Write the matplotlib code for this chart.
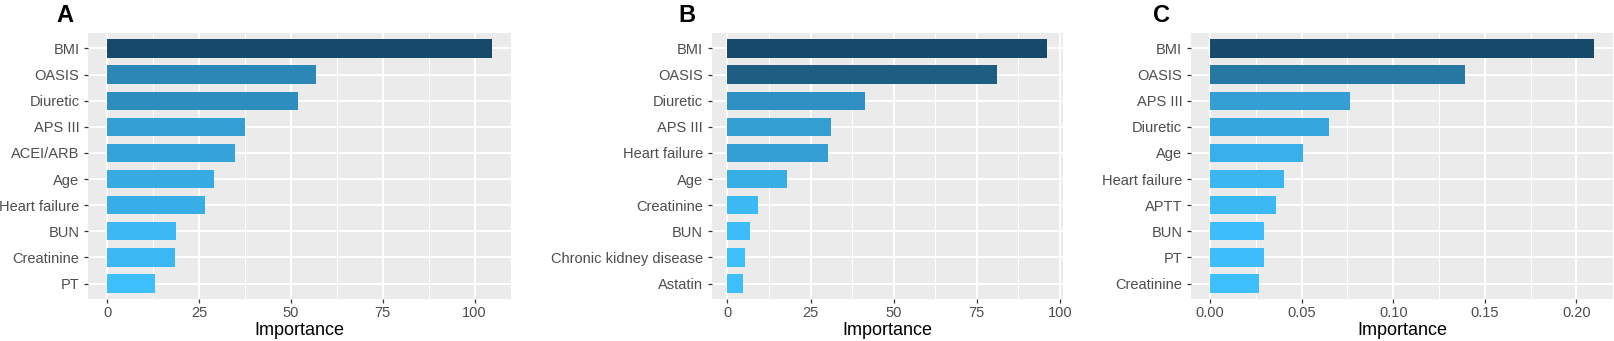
import numpy as np
import matplotlib
matplotlib.use("Agg")
import matplotlib.pyplot as plt
from matplotlib.colors import LinearSegmentedColormap, Normalize
from matplotlib.ticker import MultipleLocator

plt.rcParams['font.family'] = ['Liberation Sans', 'DejaVu Sans']

# Panel A
labels_a = ["BMI", "OASIS", "Diuretic", "APS III", "ACEI/ARB", "Age",
            "Heart failure", "BUN", "Creatinine", "PT"]
values_a = [104.7, 56.9, 51.9, 37.4, 34.8, 29.2, 26.5, 18.6, 18.4, 12.9]

# Panel B
labels_b = ["BMI", "OASIS", "Diuretic", "APS III", "Heart failure", "Age",
            "Creatinine", "BUN", "Chronic kidney disease", "Astatin"]
values_b = [96.1, 81.2, 41.4, 31.1, 30.3, 17.9, 9.1, 6.7, 5.4, 4.7]

# Panel C
labels_c = ["BMI", "OASIS", "APS III", "Diuretic", "Age", "Heart failure",
            "APTT", "BUN", "PT", "Creatinine"]
values_c = [0.2095, 0.139, 0.0763, 0.0647, 0.0505, 0.0402, 0.0359, 0.0296,
            0.0292, 0.0268]

ticks_ab = [0, 25, 50, 75, 100]
ticks_c = [0.00, 0.05, 0.10, 0.15, 0.20]

cmap = LinearSegmentedColormap.from_list("imp", ["#3dbffc", "#174a6a"])

W, H = 1614, 341
fig = plt.figure(figsize=(W / 100, H / 100), dpi=100)

def panel(left, right, labels, values, ticks, fmt, minor, letter, letter_x):
    top, bottom = 32.7, 299.3
    ax = fig.add_axes([left / W, (H - bottom) / H, (right - left) / W, (bottom - top) / H])
    ax.set_facecolor("#EBEBEB")
    n = len(labels)
    y = np.arange(n)
    norm = Normalize(min(values), max(values))
    ax.barh(y, values, height=0.7, color=cmap(norm(np.array(values))), zorder=3)
    m = max(values)
    ax.set_xlim(-0.05 * m, 1.05 * m)
    ax.set_ylim(n - 0.4, -0.6)
    ax.set_yticks(y)
    ax.set_yticklabels(labels)
    ax.set_xticks(ticks)
    ax.set_xticklabels([fmt.format(t) for t in ticks])
    ax.xaxis.set_minor_locator(MultipleLocator(minor))
    ax.grid(which="major", color="white", linewidth=1.4, zorder=1)
    ax.grid(which="minor", axis="x", color="white", linewidth=0.7, zorder=1)
    ax.set_axisbelow(True)
    for s in ax.spines.values():
        s.set_visible(False)
    ax.tick_params(which="major", length=3.0, width=0.9, color="#333333",
                   labelsize=10.5, labelcolor="#4D4D4D")
    ax.tick_params(axis="y", pad=3.2)
    ax.tick_params(axis="x", pad=2.0)
    ax.tick_params(which="minor", length=0)
    ax.set_xlabel("Importance", fontsize=13, labelpad=1.5)
    fig.text(letter_x / W, 1 - 15.5 / H, letter, fontsize=17, fontweight="bold",
             ha="center", va="center")
    return ax

panel(88, 511, labels_a, values_a, ticks_ab, "{:g}", 12.5, "A", 65)
panel(711.5, 1062.8, labels_b, values_b, ticks_ab, "{:g}", 12.5, "B", 687)
panel(1190.9, 1613, labels_c, values_c, ticks_c, "{:.2f}", 0.025, "C", 1161)

fig.savefig("out.png", dpi=100)
